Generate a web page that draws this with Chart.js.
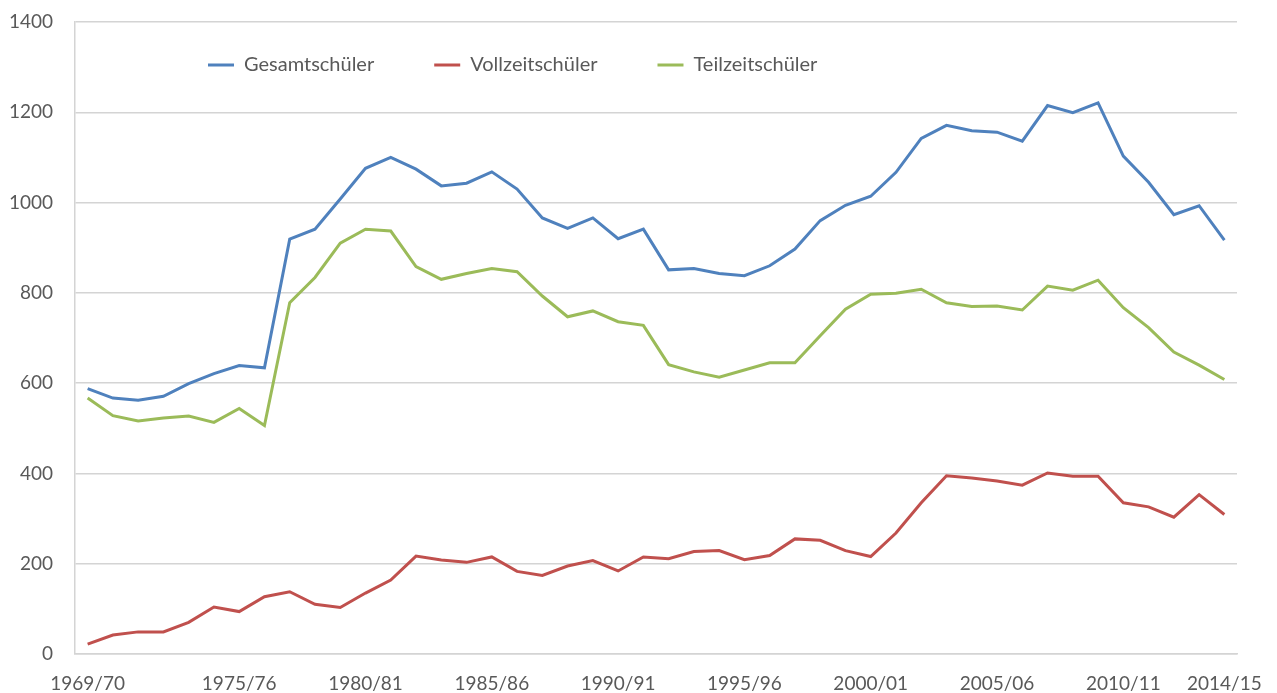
<!DOCTYPE html>
<html>
<head>
<meta charset="utf-8">
<script src="https://cdn.jsdelivr.net/npm/chart.js"></script>
<style>
  html, body { margin: 0; padding: 0; background: #fff; }
  #wrap { width: 1277px; height: 693px; }
</style>
</head>
<body>
<div id="wrap"><canvas id="chart" width="1277" height="693"></canvas></div>
<script>
// school years (categories)
const years = [
  '1969/70', '1970/71', '1971/72', '1972/73', '1973/74', '1974/75', '1975/76', '1976/77',
  '1977/78', '1978/79', '1979/80', '1980/81', '1981/82', '1982/83', '1983/84', '1984/85',
  '1985/86', '1986/87', '1987/88', '1988/89', '1989/90', '1990/91', '1991/92', '1992/93',
  '1993/94', '1994/95', '1995/96', '1996/97', '1997/98', '1998/99', '1999/00', '2000/01',
  '2001/02', '2002/03', '2003/04', '2004/05', '2005/06', '2006/07', '2007/08', '2008/09',
  '2009/10', '2010/11', '2011/12', '2012/13', '2013/14', '2014/15'
];

// only these years get a label on the x axis
const shownYears = ['1969/70', '1975/76', '1980/81', '1985/86', '1990/91',
  '1995/96', '2000/01', '2005/06', '2010/11', '2014/15'];

const gesamt = [
  588, 567, 562, 571, 599, 621, 639, 634, 919, 941,
  1008, 1076, 1100, 1074, 1037, 1043, 1068, 1030, 966, 943,
  966, 920, 941, 851, 854, 843, 838, 860, 897, 960,
  994, 1014, 1067, 1142, 1171, 1159, 1156, 1136, 1215, 1199,
  1221, 1103, 1045, 973, 993, 917
];

const vollzeit = [
  22, 42, 49, 49, 70, 104, 94, 127, 138, 110,
  103, 135, 164, 217, 208, 203, 215, 183, 174, 195,
  207, 184, 215, 211, 227, 229, 209, 218, 255, 252,
  229, 216, 268, 335, 395, 390, 383, 374, 401, 394,
  394, 335, 326, 303, 353, 309
];

const teilzeit = [
  567, 528, 516, 523, 527, 513, 544, 506, 778, 834,
  910, 941, 937, 858, 830, 843, 854, 847, 793, 747,
  760, 736, 728, 641, 625, 613, 629, 645, 645, 705,
  764, 797, 799, 808, 778, 770, 771, 762, 815, 806,
  828, 767, 723, 669, 640, 608
];

const yTicks = [0, 200, 400, 600, 800, 1000, 1200, 1400];

const textColor = '#595959';
const gridColor = '#d4d4d4';
const fontFamily = 'Lato, "Liberation Sans", sans-serif';
const tickFont = { family: fontFamily, size: 19 };
const legendFont = { family: fontFamily, size: 20 };

function makeSet(label, data, color) {
  return {
    label: label,
    data: data,
    borderColor: color,
    backgroundColor: color,
    borderWidth: 3,
    pointRadius: 0,
    tension: 0,
    fill: false
  };
}

// legend sits inside the plot (as in the original), so it takes no room
// in the layout and is moved after the update
const legendPlace = {
  id: 'legendPlace',
  beforeUpdate(chart) {
    const lg = chart.legend;
    if (lg && !lg._noHeight) {
      const fit = lg.fit;
      lg.fit = function () { fit.call(this); this.height = 0; };
      lg._noHeight = true;
    }
  },
  afterUpdate(chart) {
    const lg = chart.legend;
    const pad = lg.options.labels.padding;
    lg.left = 208 - pad;
    lg.top = 65 - pad - legendFont.size / 2;
    lg.right = chart.width;
    lg.width = lg.right - lg.left;
    lg.height = 2 * pad + 40;
    lg.bottom = lg.top + lg.height;
    lg.adjustHitBoxes();
  }
};

new Chart(document.getElementById('chart'), {
  type: 'line',
  data: {
    labels: years,
    datasets: [
      makeSet('Gesamtschüler', gesamt, '#4f81bd'),
      makeSet('Vollzeitschüler', vollzeit, '#c0504d'),
      makeSet('Teilzeitschüler', teilzeit, '#9bbb59')
    ]
  },
  options: {
    responsive: false,
    animation: false,
    layout: { padding: { top: 22, right: 40, bottom: 0, left: 0 } },
    plugins: {
      tooltip: { enabled: false },
      legend: {
        position: 'top',
        align: 'start',
        labels: {
          color: textColor,
          font: legendFont,
          boxWidth: 26,
          boxHeight: 3,
          padding: 60,
          generateLabels(chart) {
            return Chart.defaults.plugins.legend.labels.generateLabels(chart)
              .map(l => Object.assign(l, { lineWidth: 0 }));
          }
        }
      }
    },
    scales: {
      x: {
        offset: true,
        grid: {
          display: true,
          drawOnChartArea: false,
          drawTicks: true,
          tickLength: 18,
          tickColor: 'rgba(0,0,0,0)'
        },
        border: { display: true, color: gridColor, width: 1.5 },
        ticks: {
          color: textColor,
          font: tickFont,
          autoSkip: false,
          maxRotation: 0,
          padding: 0,
          callback(value, index) {
            const l = years[index];
            return shownYears.includes(l) ? l : '';
          }
        },
        afterFit(scale) { scale.height = 39; }
      },
      y: {
        min: 0,
        max: 1400,
        afterBuildTicks(scale) { scale.ticks = yTicks.map(v => ({ value: v })); },
        grid: {
          color: gridColor,
          lineWidth: 1.5,
          drawTicks: true,
          tickLength: 22,
          tickColor: 'rgba(0,0,0,0)'
        },
        border: { display: true, color: gridColor, width: 1.5 },
        ticks: {
          color: textColor,
          font: tickFont,
          padding: 0,
          callback(value) { return String(value); }
        },
        afterFit(scale) { scale.width = 75; }
      }
    }
  },
  plugins: [legendPlace]
});
</script>
</body>
</html>
